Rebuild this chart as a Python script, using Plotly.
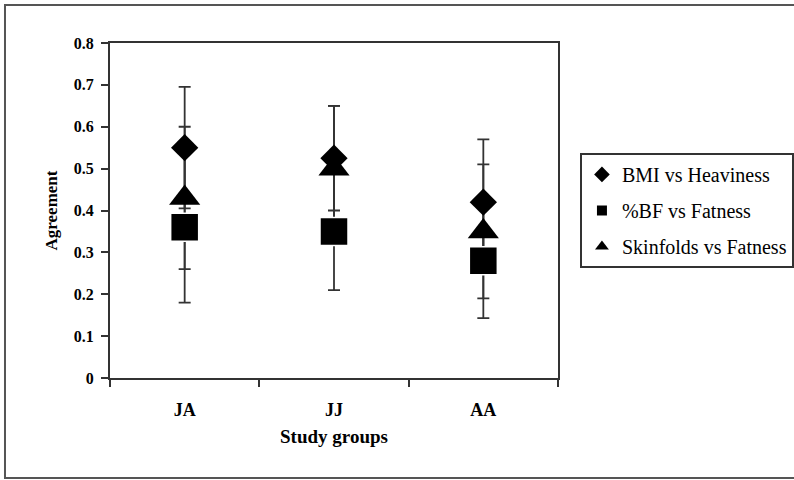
import plotly.graph_objects as go

groups = ["JA", "JJ", "AA"]
bmi_heaviness = [0.55, 0.525, 0.42]
bmi_err = [0.145, 0.125, 0.15]
bf_fatness = [0.36, 0.35, 0.28]
bf_err = [0.18, 0.14, 0.137]
skin_fatness = [0.43, 0.50, 0.35]
skin_err = [0.17, 0.15, 0.16]

names = ["BMI vs Heaviness", "%BF vs Fatness", "Skinfolds vs Fatness"]
serif = "Liberation Serif, Times New Roman, serif"
LC = "#333333"

fig = go.Figure()

series = [
    (bmi_heaviness, bmi_err, names[0], "diamond", 21, dict(width=0, color="black"), 1),
    (skin_fatness, skin_err, names[2], "triangle-up", 27, dict(width=0, color="black"), 3),
    (bf_fatness, bf_err, names[1], "square", 28, dict(width=1.5, color="white"), 2),
]

# error bars first (underneath all markers)
for y, e, name, symbol, size, mline, rank in series:
    fig.add_trace(go.Scatter(
        x=groups, y=y, mode="markers", showlegend=False, hoverinfo="skip",
        marker=dict(size=1, color="rgba(0,0,0,0)"),
        error_y=dict(type="data", array=e, visible=True, color=LC,
                     thickness=1.8, width=6),
    ))

# markers on top
for y, e, name, symbol, size, mline, rank in series:
    fig.add_trace(go.Scatter(
        x=groups, y=y, mode="markers", name=name, legendgroup=name,
        legendrank=rank,
        marker=dict(symbol=symbol, size=size, color="black", line=mline),
    ))

fig.update_layout(
    width=794, height=480,
    margin=dict(l=110, r=236, t=43, b=102, autoexpand=False),
    paper_bgcolor="white", plot_bgcolor="white",
    font=dict(family=serif, color="black"),
    showlegend=True,
    legend=dict(
        x=1.049, y=0.672, xanchor="left", yanchor="top",
        bordercolor=LC, borderwidth=2, bgcolor="white",
        font=dict(family=serif, size=20, color="black"),
        itemsizing="constant", itemwidth=30, tracegroupgap=7,
        traceorder="grouped",
    ),
    xaxis=dict(
        type="category", range=[-0.5, 2.5],
        showline=True, linecolor=LC, linewidth=2, mirror=True,
        ticks="outside", ticklen=7, tickcolor=LC, tickwidth=2,
        tickson="boundaries", showgrid=False, zeroline=False,
        tickfont=dict(family=serif, size=18, color="black", weight="bold"),
        ticklabelstandoff=14,
        title=dict(text="<b>Study groups</b>", font=dict(family=serif, size=19), standoff=11),
    ),
    yaxis=dict(
        range=[0, 0.8], dtick=0.1, tick0=0,
        showline=True, linecolor=LC, linewidth=2, mirror=True,
        ticks="outside", ticklen=7, tickcolor=LC, tickwidth=2,
        showgrid=False, zeroline=False,
        tickfont=dict(family=serif, size=16, color="black", weight="bold"),
        ticklabelstandoff=4,
        title=dict(text="<b>Agreement</b>", font=dict(family=serif, size=17), standoff=12),
    ),
    shapes=[dict(
        type="rect", xref="paper", yref="paper",
        x0=-0.2344, x1=1.56, y0=-0.2985, y1=1.1134,
        line=dict(color="#555555", width=2), fillcolor="rgba(0,0,0,0)",
        layer="below",
    )],
)

fig.write_html("out.html", config={"displayModeBar": False},
               post_script="document.body.style.margin='0px';")
